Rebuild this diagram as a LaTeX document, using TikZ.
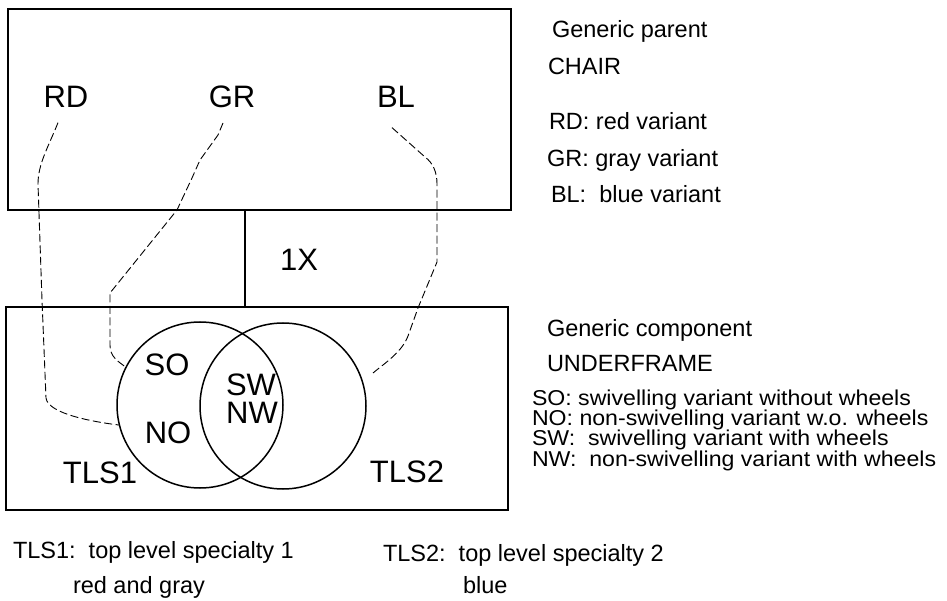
\documentclass[tikz,border=0pt]{standalone}
\usepackage{fontspec}
\setmainfont{Liberation Sans}
\newfontfamily\widesans[FakeStretch=1.075]{Liberation Sans}
\usetikzlibrary{positioning}

\begin{document}
\begin{tikzpicture}[x=1pt, y=-1pt,
  frame/.style={draw, line width=1.6pt, inner sep=0pt, outer sep=0pt},
  venn/.style={circle, draw, line width=1.5pt, minimum size=166pt, inner sep=0pt, outer sep=0pt},
  lbl/.style={inner sep=0pt, outer sep=0pt, font=\fontsize{31}{36}\selectfont},
  txt/.style={inner sep=0pt, outer sep=0pt, anchor=base west, font=\fontsize{23.5}{28}\selectfont},
  tight/.style={txt, font=\widesans\fontsize{21.5}{24}\selectfont},
  link/.style={line width=0.9pt, dash pattern=on 8pt off 3.5pt}]
  \useasboundingbox (0,0) rectangle (947,601);
  % parent box, component box and the 1X link
  \node[frame, minimum width=503pt, minimum height=201pt] (chair) at (259.5,109.5) {};
  \node[frame, minimum width=502pt, minimum height=203pt] (uframe) at (257,408.5) {};
  \draw[line width=1.6pt] ([xshift=-14.5pt]chair.south) -- ([xshift=-14.5pt]chair.south |- uframe.north);
  \node[lbl] (once) at (299,260) {1X};
  % variants of the parent
  \node[lbl] (rd) at (66,97) {RD};
  \node[lbl] (gr) at (232,97) {GR};
  \node[lbl] (bl) at (396,97) {BL};
  % top level specialties
  \node[venn] (tls1c) at (200,405) {};
  \node[venn] (tls2c) at (283,406) {};
  \node[lbl] (so) at (167,365) {SO};
  \node[lbl] (no) at (168,433) {NO};
  \node[lbl] (sw) at (251,385) {SW};
  \node[lbl] (nw) at (252,413) {NW};
  \node[lbl] (tls1) at (100,473) {TLS1};
  \node[lbl] (tls2) at (407,472) {TLS2};
  \coordinate (blend) at (373,373);
  % dashed links variant -> specialty
  \draw[link] ([shift={(-8,15)}]rd.south) .. controls +(-10,25) and +(0,-20) .. (38,184)
    -- (42,300) -- (46,398) .. controls +(2,16) and +(-25,-3) .. (tls1c.194);
  \draw[link] ([shift={(-9,15)}]gr.south) -- (218,135) -- (200,160) -- (192,178) -- (177,210)
    -- (110,293) -- (110,345) .. controls +(0,12) and +(-8,-6) .. (tls1c.153);
  \draw[link] ([shift={(-4,20)}]bl.south) -- (425,157) .. controls +(8,6) and +(0,-12) .. (437,184)
    -- (437,262) -- (418,308) -- (408,336) .. controls +(-6,16) and +(12,-10) .. (blend);
  % legend of the parent
  \node[txt] (gp) at (552,38) {Generic parent};
  \node[txt] (gpname) at (548,75) {CHAIR};
  \node[txt] (gprd) at (549,130) {RD: red variant};
  \node[txt, below=36.5pt of gprd.base west, anchor=base west, xshift=-2pt] (gpgr) {GR: gray variant};
  \node[txt, below=36.5pt of gpgr.base west, anchor=base west, xshift=4pt] (gpbl) {BL:\ \ blue variant};
  % legend of the component
  \node[txt] (gc) at (547,336) {Generic component};
  \node[txt] (gcname) at (547,371) {UNDERFRAME};
  \node[tight] (gcso) at (532,405) {SO: swivelling variant without wheels};
  \node[tight, below=20.4pt of gcso.base west, anchor=base west] (gcno) {NO: non-swivelling variant w.o. wheels};
  \node[tight, below=20.4pt of gcno.base west, anchor=base west] (gcsw) {SW:\ \ swivelling variant with wheels};
  \node[tight, below=20.4pt of gcsw.base west, anchor=base west] (gcnw) {NW:\ \ non-swivelling variant with wheels};
  % legend of the specialties
  \node[txt] (t1) at (13,558) {TLS1:\ \ top level specialty 1};
  \node[txt] (t1c) at (73,593) {red and gray};
  \node[txt] (t2) at (383,561) {TLS2:\ \ top level specialty 2};
  \node[txt] (t2c) at (463,593) {blue};
\end{tikzpicture}
\end{document}
